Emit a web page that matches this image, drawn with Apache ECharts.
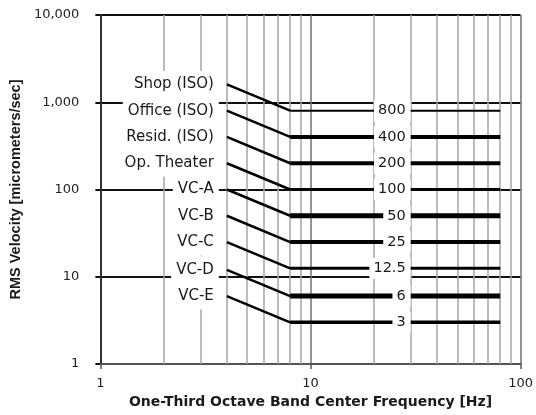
<!DOCTYPE html>
<html>
<head>
<meta charset="utf-8">
<script src="https://cdn.jsdelivr.net/npm/echarts@6/dist/echarts.min.js"></script>
<style>
html,body{margin:0;padding:0;background:#fff;}
#chart{width:536px;height:415px;}
</style>
</head>
<body>
<div id="chart"></div>
<script>
// ---- data ----
const criteria = ['Shop (ISO)', 'Office (ISO)', 'Resid. (ISO)', 'Op. Theater', 'VC-A', 'VC-B', 'VC-C', 'VC-D', 'VC-E'];
const startValues = [1600, 800, 400, 200, 100, 50, 25, 12, 6];   // at 4 Hz
const flatValues = [800, 400, 200, 100, 50, 25, 12.5, 6, 3];     // from 8 Hz to 80 Hz
const valueLabels = ['800', '400', '200', '100', '50', '25', '12.5', '6', '3'];
const startHz = 4;
const kneeHz = 8;
const endHz = 80;
const valueLabelHz = 30;
const gridHz = [2, 3, 4, 5, 6, 7, 8, 9, 20, 30, 40, 50, 60, 70, 80, 90];
const xTickLabels = ['1', '10', '100'];
const yTickLabels = ['1', '10', '100', '1,000', '10,000'];

// ---- styles ----
const flatWidths = [2, 4, 4, 3, 5, 4, 3, 5, 3.5];
const FONT = 'DejaVu Sans';

const chart = echarts.init(document.getElementById('chart'), null, {renderer: 'canvas'});

const series = [];
// minor vertical grid lines
series.push({
  type: 'line', data: [], z: 1, silent: true,
  markLine: {
    silent: true, symbol: ['none', 'none'], animation: false, z: 1,
    label: {show: false},
    lineStyle: {color: '#a6a6a6', width: 1.5, type: 'solid'},
    emphasis: {disabled: true},
    data: gridHz.map(v => ({xAxis: v}))
  }
});
criteria.forEach((name, i) => {
  series.push({
    type: 'line', z: 3, silent: true, symbol: 'none',
    lineStyle: {color: '#000', width: 2.5},
    data: [[startHz, startValues[i]], [kneeHz, flatValues[i]]]
  });
  series.push({
    type: 'line', z: 3, silent: true, symbol: 'none',
    lineStyle: {color: '#000', width: flatWidths[i]},
    data: [[kneeHz, flatValues[i]], [endHz, flatValues[i]]]
  });
});
const labelBase = {
  type: 'scatter', zlevel: 2, z: 10, silent: true, symbolSize: 0.1,
  itemStyle: {color: '#ffffff', opacity: 1},
  emphasis: {disabled: true}
};
// left criterion labels
series.push(Object.assign({}, labelBase, {
  data: criteria.map((n, i) => [startHz, startValues[i]]),
  label: {
    show: true, position: 'left', distance: 8, opacity: 1,
    formatter: p => criteria[p.dataIndex],
    fontFamily: FONT, fontSize: 15, color: '#1a1a1a',
    backgroundColor: '#ffffff', padding: [6, 5, 6, 5], lineHeight: 15
  }
}));
// right value labels
series.push(Object.assign({}, labelBase, {
  data: flatValues.map(v => [valueLabelHz, v]),
  label: {
    show: true, position: 'left', distance: 0, opacity: 1,
    formatter: p => valueLabels[p.dataIndex],
    fontFamily: FONT, fontSize: 14.5, color: '#1a1a1a',
    backgroundColor: '#ffffff', padding: [3, 5, 3, 4], lineHeight: 15
  }
}));

const logIdx = v => Math.round(Math.log10(v));

chart.setOption({
  animation: false,
  backgroundColor: '#fff',
  grid: {left: 98, right: 15, top: 15, bottom: 51, containLabel: false},
  xAxis: {
    type: 'log', logBase: 10, min: 1, max: 100,
    name: 'One-Third Octave Band Center Frequency [Hz]',
    nameLocation: 'middle', nameGap: 31,
    nameTextStyle: {fontFamily: FONT, fontWeight: 'bold', fontSize: 14, color: '#1a1a1a'},
    axisLine: {show: true, onZero: false, lineStyle: {color: '#555', width: 2}},
    axisTick: {show: true, length: 5, lineStyle: {color: '#555', width: 1.5}},
    axisLabel: {margin: 13, fontFamily: FONT, fontSize: 13, color: '#222',
      formatter: v => xTickLabels[logIdx(v)]},
    splitLine: {show: true, lineStyle: {color: '#707070', width: 1.5}},
    minorTick: {show: false}, minorSplitLine: {show: false}
  },
  yAxis: {
    type: 'log', logBase: 10, min: 1, max: 10000,
    name: 'RMS Velocity [micrometers/sec]',
    nameLocation: 'middle', nameGap: 64, nameRotate: 90,
    nameTextStyle: {fontFamily: 'Liberation Sans', fontWeight: 'bold', fontSize: 14.5, color: '#1a1a1a'},
    axisLine: {show: true, lineStyle: {color: '#333', width: 2}},
    axisTick: {show: true, length: 5, lineStyle: {color: '#111', width: 2}},
    axisLabel: {margin: 21, fontFamily: FONT, fontSize: 13, color: '#222',
      formatter: v => yTickLabels[logIdx(v)]},
    splitLine: {show: true, lineStyle: {color: ['#555', '#111', '#111', '#111', '#111'], width: 2}}
  },
  series: series
});
</script>
</body>
</html>
